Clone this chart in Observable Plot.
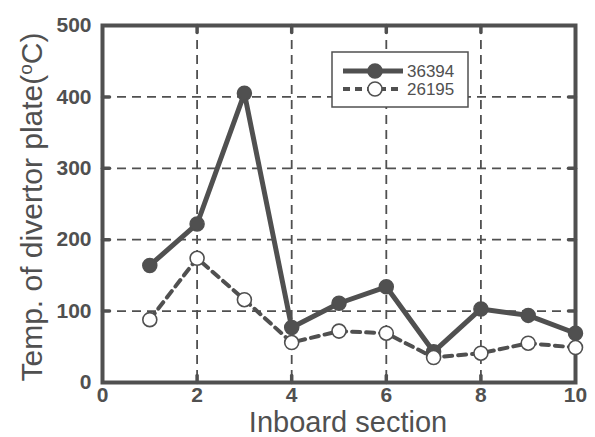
<!DOCTYPE html>
<html><head><meta charset="utf-8">
<script src="https://cdn.jsdelivr.net/npm/d3@7"></script>
<script src="https://cdn.jsdelivr.net/npm/@observablehq/plot@0.6"></script>
<style>body{margin:0;background:#fff} #chart{position:relative;width:595px;height:437px}</style>
</head><body><div id="chart"></div>
<script>
const sections = [1, 2, 3, 4, 5, 6, 7, 8, 9, 10];
const shot36394 = [164, 222, 405, 77, 111, 134, 43, 103, 94, 69];
const shot26195 = [88, 174, 116, 56, 72, 69, 35, 41, 55, 49];
const seriesNames = ["36394", "26195"];
const xTicks = [0, 2, 4, 6, 8, 10];
const yTicks = [0, 100, 200, 300, 400, 500];
const xLabel = "Inboard section";
const yLabelParts = ["Temp. of divertor plate(", "o", "C)"];

const ink = "#505050";
const font = "'Liberation Sans', Arial, Helvetica, sans-serif";
const solid = sections.map((s, i) => ({x: s, y: shot36394[i]}));
const dashed = sections.map((s, i) => ({x: s, y: shot26195[i]}));
const tickShape = {draw(ctx, l) { ctx.moveTo(0, 0); ctx.lineTo(0, -l); }};
const inner = (arr) => arr.slice(1, -1);

const plot = Plot.plot({
  width: 595, height: 437,
  marginLeft: 102, marginRight: 20, marginTop: 25, marginBottom: 55,
  style: {fontFamily: font, color: ink, background: "#fff"},
  x: {domain: [0, 10]},
  y: {domain: [0, 500]},
  marks: [
    Plot.gridX(inner(xTicks), {stroke: ink, strokeOpacity: 1, strokeWidth: 1.8, strokeDasharray: "9,6"}),
    Plot.gridY(inner(yTicks), {stroke: ink, strokeOpacity: 1, strokeWidth: 1.8, strokeDasharray: "9,6"}),
    Plot.vector(inner(xTicks), {x: d => d, frameAnchor: "bottom", length: 7, anchor: "start", rotate: 0, shape: tickShape, stroke: ink, strokeWidth: 3.5}),
    Plot.vector(inner(xTicks), {x: d => d, frameAnchor: "top", length: 7, anchor: "start", rotate: 180, shape: tickShape, stroke: ink, strokeWidth: 3.5}),
    Plot.vector(inner(yTicks), {y: d => d, frameAnchor: "left", length: 7, anchor: "start", rotate: 90, shape: tickShape, stroke: ink, strokeWidth: 3.5}),
    Plot.vector(inner(yTicks), {y: d => d, frameAnchor: "right", length: 7, anchor: "start", rotate: -90, shape: tickShape, stroke: ink, strokeWidth: 3.5}),
    Plot.frame({stroke: ink, strokeWidth: 4}),
    Plot.axisX({ticks: xTicks, tickSize: 0, tickPadding: 5, fontSize: 21, fontWeight: "bold", label: null, tickFormat: d => String(d)}),
    Plot.axisY({ticks: yTicks, tickSize: 0, tickPadding: 11, fontSize: 21, fontWeight: "bold", label: null, tickFormat: d => String(d)}),
    Plot.line(solid, {x: "x", y: "y", stroke: ink, strokeWidth: 5}),
    Plot.dot(solid, {x: "x", y: "y", r: 7, fill: ink, stroke: ink}),
    Plot.line(dashed, {x: "x", y: "y", stroke: ink, strokeWidth: 4, strokeDasharray: "8,6"}),
    Plot.dot(dashed, {x: "x", y: "y", r: 7, fill: "white", stroke: ink, strokeWidth: 1.6}),
    Plot.text([xLabel], {frameAnchor: "bottom", textAnchor: "middle", dx: 9, dy: 40, fontSize: 29, lineAnchor: "middle", fill: ink}),
    Plot.text([yLabelParts.join("")], {frameAnchor: "left", textAnchor: "middle", dx: -70, dy: 3, rotate: -90, fontSize: 30, lineAnchor: "middle", fill: ink, className: "ylab"})
  ]
});
document.getElementById("chart").appendChild(plot);

// superscript in y label
const svg = d3.select(plot);
const yl = svg.select("g.ylab text");
if (!yl.empty()) {
  yl.text(null);
  yl.append("tspan").text(yLabelParts[0]);
  yl.append("tspan").text(yLabelParts[1]).attr("baseline-shift", "super").attr("font-size", 19);
  yl.append("tspan").text(yLabelParts[2]);
}

// legend
const lg = svg.append("g").attr("font-family", font).attr("text-anchor", "start");
lg.append("rect").attr("x", 332).attr("y", 52).attr("width", 136).attr("height", 55)
  .attr("fill", "white").attr("stroke", ink).attr("stroke-width", 1.5);
const rows = [
  {name: seriesNames[0], y: 71, dash: null, fill: ink, w: 5},
  {name: seriesNames[1], y: 89, dash: "7,5", fill: "white", w: 4}
];
rows.forEach(r => {
  lg.append("line").attr("x1", 343).attr("x2", 403).attr("y1", r.y).attr("y2", r.y)
    .attr("stroke", ink).attr("stroke-width", r.w).attr("stroke-dasharray", r.dash);
  lg.append("circle").attr("cx", 375).attr("cy", r.y).attr("r", 7)
    .attr("fill", r.fill).attr("stroke", ink).attr("stroke-width", 1.6);
  lg.append("text").attr("x", 407).attr("y", r.y).attr("dy", "0.36em")
    .attr("font-size", 17).attr("fill", ink).text(r.name);
});
</script>
</body></html>
